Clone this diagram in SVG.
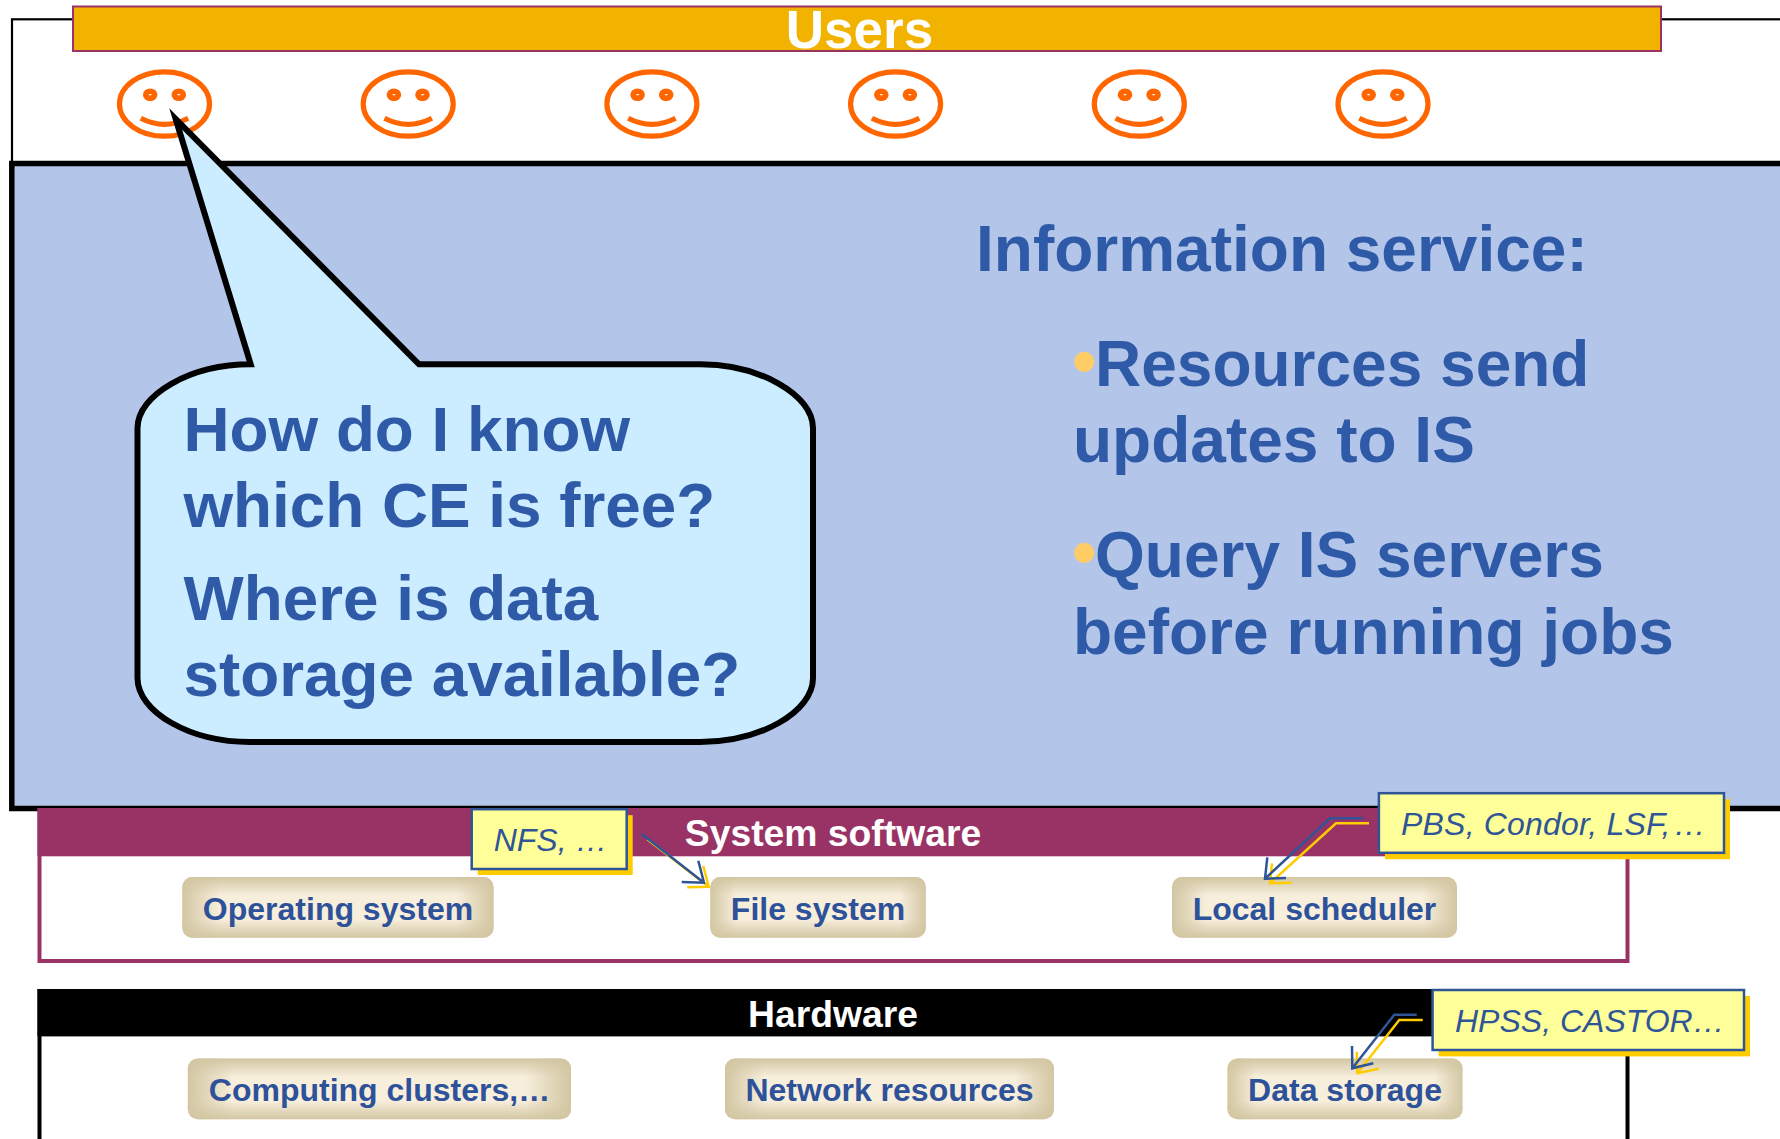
<svg xmlns="http://www.w3.org/2000/svg" width="1780" height="1139" viewBox="0 0 1780 1139">
<style>
text{font-family:"Liberation Sans",Arial,sans-serif}
.b{font-weight:bold}
.blue{fill:#2F5AA8}
.big{font-size:63.8px}
.info{font-size:64px}
.bul{fill:#FFCC66;font-size:70px}
.chipt{font-size:32px;font-weight:bold;fill:#2E5299;text-anchor:middle}
.note{fill:#FFFF99;stroke:#2F5597;stroke-width:2.5}
.shadow{fill:#FFCC00}
.notet{font-size:32px;font-style:italic;fill:#2F5597}
.hdr{font-size:37.3px;font-weight:bold;fill:#fff;text-anchor:middle}
.cb{fill:none;stroke:#2F5597;stroke-width:2.5}
.cy{fill:none;stroke:#FFCC00;stroke-width:2.5}
.face{fill:none;stroke:#FF6600;stroke-width:5.2}
</style>
<defs>
<linearGradient id="gh" x1="0" y1="0" x2="1" y2="0">
<stop offset="0" stop-color="#D2C6A2"/><stop offset="0.12" stop-color="#D2C6A2" stop-opacity="0"/><stop offset="0.88" stop-color="#D2C6A2" stop-opacity="0"/><stop offset="1" stop-color="#D2C6A2"/>
</linearGradient>
<linearGradient id="gv" x1="0" y1="0" x2="0" y2="1">
<stop offset="0" stop-color="#D2C6A2"/><stop offset="0.3" stop-color="#D2C6A2" stop-opacity="0"/><stop offset="0.7" stop-color="#D2C6A2" stop-opacity="0"/><stop offset="1" stop-color="#D2C6A2"/>
</linearGradient>
<g id="smiley">
<ellipse class="face" cx="0" cy="0" rx="45" ry="32.2"/>
<ellipse cx="-14.3" cy="-9.3" rx="7.3" ry="6.3" fill="#FF6600"/>
<ellipse cx="14.3" cy="-9.3" rx="7.3" ry="6.3" fill="#FF6600"/>
<ellipse cx="-14.3" cy="-9.3" rx="1.5" ry="0.6" fill="#fff"/>
<ellipse cx="14.3" cy="-9.3" rx="1.5" ry="0.6" fill="#fff"/>
<path class="face" d="M-23.7 14.3Q0 26.5 23.7 14.3"/>
</g>
</defs>
<rect width="1780" height="1139" fill="#fff"/>
<g id="users-frame"><rect x="12" y="19.3" width="1800" height="160" fill="#fff" stroke="#000" stroke-width="2.2"/></g>
<g id="users-bar"><rect x="73" y="6.5" width="1588" height="44.5" fill="#F2B200" stroke="#993366" stroke-width="2"/>
<text class="b" x="859.5" y="48" font-size="53" fill="#fff" text-anchor="middle">Users</text></g>
<g id="smileys">
<use href="#smiley" x="164.5" y="104"/>
<use href="#smiley" x="408.2" y="104"/>
<use href="#smiley" x="651.9" y="104"/>
<use href="#smiley" x="895.6" y="104"/>
<use href="#smiley" x="1139.3" y="104"/>
<use href="#smiley" x="1383" y="104"/>
</g>
<g id="info-panel"><rect x="11.8" y="163.5" width="1800" height="645" fill="#B3C6E9" stroke="#000" stroke-width="5.5"/>
<text class="b blue info" x="976" y="270.5">Information service:</text>
<text class="b blue info" x="1072" y="385.5"><tspan class="bul" dy="-1">•</tspan><tspan dy="1" dx="-1.5">Resources send</tspan></text>
<text class="b blue info" x="1073" y="462">updates to IS</text>
<text class="b blue info" x="1072" y="577"><tspan class="bul" dy="-1">•</tspan><tspan dy="1" dx="-1.5">Query IS servers</tspan></text>
<text class="b blue info" x="1073" y="654">before running jobs</text>
</g>
<g id="system-software">
<rect x="39.5" y="810" width="1588" height="151" fill="#fff" stroke="#993366" stroke-width="4"/>
<rect x="37.5" y="808" width="1592" height="48.3" fill="#993366"/>
<text class="hdr" x="833" y="846">System software</text>
</g>
<g id="hardware">
<rect x="39.5" y="991" width="1588" height="220" fill="#fff" stroke="#000" stroke-width="4"/>
<rect x="37.5" y="989" width="1592" height="47.4" fill="#000"/>
<text class="hdr" x="833" y="1027">Hardware</text>
</g>
<g id="chip-os"><rect x="182.3" y="877" width="311.3" height="60.7" rx="10" fill="#F7EEDC"/><rect x="182.3" y="877" width="311.3" height="60.7" rx="10" fill="url(#gh)"/><rect x="182.3" y="877" width="311.3" height="60.7" rx="10" fill="url(#gv)"/><text class="chipt" x="338" y="919.5">Operating system</text></g>
<g id="chip-fs"><rect x="710.3" y="877" width="215.5" height="60.7" rx="10" fill="#F7EEDC"/><rect x="710.3" y="877" width="215.5" height="60.7" rx="10" fill="url(#gh)"/><rect x="710.3" y="877" width="215.5" height="60.7" rx="10" fill="url(#gv)"/><text class="chipt" x="818" y="919.5">File system</text></g>
<g id="chip-sched"><rect x="1172" y="877" width="285" height="60.7" rx="10" fill="#F7EEDC"/><rect x="1172" y="877" width="285" height="60.7" rx="10" fill="url(#gh)"/><rect x="1172" y="877" width="285" height="60.7" rx="10" fill="url(#gv)"/><text class="chipt" x="1314.5" y="919.5">Local scheduler</text></g>
<g id="chip-clusters"><rect x="187.8" y="1058.5" width="383.2" height="60.7" rx="10" fill="#F7EEDC"/><rect x="187.8" y="1058.5" width="383.2" height="60.7" rx="10" fill="url(#gh)"/><rect x="187.8" y="1058.5" width="383.2" height="60.7" rx="10" fill="url(#gv)"/><text class="chipt" x="379.5" y="1100.7">Computing clusters,…</text></g>
<g id="chip-network"><rect x="725" y="1058.5" width="329" height="60.7" rx="10" fill="#F7EEDC"/><rect x="725" y="1058.5" width="329" height="60.7" rx="10" fill="url(#gh)"/><rect x="725" y="1058.5" width="329" height="60.7" rx="10" fill="url(#gv)"/><text class="chipt" x="889.5" y="1100.7">Network resources</text></g>
<g id="chip-storage"><rect x="1227.5" y="1058.5" width="235" height="60.7" rx="10" fill="#F7EEDC"/><rect x="1227.5" y="1058.5" width="235" height="60.7" rx="10" fill="url(#gh)"/><rect x="1227.5" y="1058.5" width="235" height="60.7" rx="10" fill="url(#gv)"/><text class="chipt" x="1345" y="1100.7">Data storage</text></g>
<g id="note-nfs"><rect class="shadow" x="477.7" y="815.2" width="155" height="59.8"/><rect class="note" x="471.7" y="809.2" width="155" height="59.8"/><text class="notet" x="493.7" y="850.7">NFS, …</text></g>
<g id="note-pbs"><rect class="shadow" x="1384.9" y="799.2" width="345.1" height="60"/><rect class="note" x="1378.9" y="793.2" width="345.1" height="59.6"/><text class="notet" x="1401" y="835" letter-spacing="0.2">PBS, Condor, LSF,<tspan dx="3">…</tspan></text></g>
<g id="note-hpss"><rect class="shadow" x="1438.6" y="996" width="311.4" height="60.4"/><rect class="note" x="1432.6" y="990" width="311.4" height="60"/><text class="notet" x="1455" y="1032.3">HPSS, CASTOR…</text></g>
<g id="connectors">
<path class="cy" d="M647.3 839.3L708.7 886.7M703.3 866L708.7 886.7L687.3 887.3"/>
<path class="cb" d="M641.7 834L704 882.7M698.3 860.7L704 882.7L681.7 882"/>
<path class="cy" d="M1369 823.3H1336L1270 883.3M1272 863.3L1270 883.3L1291.7 882.7"/>
<path class="cb" d="M1363.3 818.3H1330L1265 878.7M1267.3 857.3L1265 878.7L1286 878"/>
<path class="cy" d="M1422.7 1020H1399.3L1357.3 1073.3M1356.7 1051.7L1357.3 1073.3L1378.7 1068.7"/>
<path class="cb" d="M1416.7 1014.7H1394.3L1352.3 1068.3M1352 1046L1352.3 1068.3L1373.3 1063.3"/>
</g>
<g id="callout">
<path d="M175.7 119L250.7 364.3C190 364.3 137.5 395 137.5 428V678C137.5 712 190 742 250 742H700C760 742 813 712 813 678V428C813 395 760 364.3 700 364.3H419Z" fill="#CCECFF" stroke="#000" stroke-width="6" stroke-miterlimit="20"/>
<text class="b blue big" x="183.5" y="451">How do I know</text>
<text class="b blue big" x="183.5" y="527">which CE is free?</text>
<text class="b blue big" x="183.5" y="620">Where is data</text>
<text class="b blue big" x="183.5" y="696">storage available?</text>
</g>
</svg>
